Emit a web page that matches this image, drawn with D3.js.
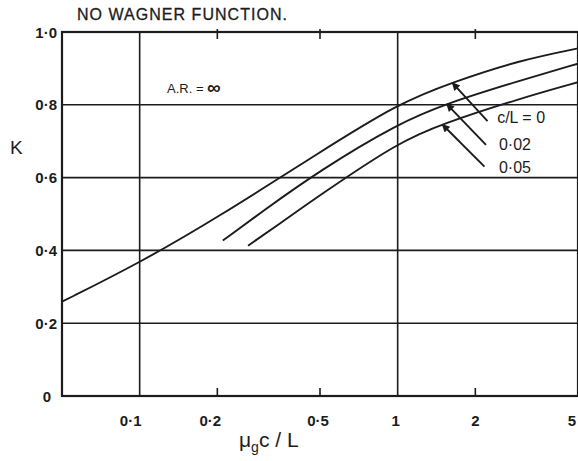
<!DOCTYPE html>
<html>
<head>
<meta charset="utf-8">
<script src="https://cdn.jsdelivr.net/npm/d3@7"></script>
<style>
  html, body { margin: 0; padding: 0; background: #fff; }
  svg { display: block; }
  text { font-family: "Liberation Sans", "DejaVu Sans", sans-serif; fill: #1c1c1c; }
</style>
</head>
<body>
<svg id="chart" width="578" height="461"></svg>
<script>
// K against mu_g c / L (log scale), one curve per gust-gradient ratio c/L
const seriesNames = ["c/L = 0", "0·02", "0·05"];
const curve0  = [[0.05,0.259],[0.1,0.366],[0.2,0.49],[0.5,0.67],[1,0.803],[1.63,0.862],[3,0.923],[5,0.955]];
const curve02 = [[0.21,0.427],[0.3,0.508],[0.5,0.62],[1,0.748],[1.55,0.804],[3,0.867],[5,0.913]];
const curve05 = [[0.263,0.413],[0.35,0.474],[0.5,0.552],[1,0.696],[1.49,0.748],[3,0.818],[5,0.862]];

const xTickValues = [0.1, 0.2, 0.5, 1, 2, 5];
const xTickLabels = ["0·1", "0·2", "0·5", "1", "2", "5"];
const xGridValues = [0.1, 1];
const xMinorTicks = [0.2, 0.5, 2];
const yTickValues = [0, 0.2, 0.4, 0.6, 0.8, 1.0];
const yTickLabels = ["0", "0·2", "0·4", "0·6", "0·8", "1·0"];

// arrows from each label to its curve: [x, K] of tail and tip
const arrowTails = [[2.23,0.755],[2.20,0.69],[2.17,0.63]];
const arrowTips  = [[1.63,0.86],[1.55,0.802],[1.49,0.746]];
const labelAnchors = [[2.43,0.766],[2.47,0.692],[2.47,0.629]];

const svg = d3.select("#chart");
const ink = "#1c1c1c";

const x = d3.scaleLog().domain([0.05, 5]).range([62, 578]);
const y = d3.scaleLinear().domain([0, 1]).range([396, 32]);

// horizontal grid
svg.append("g").selectAll("line").data(yTickValues.filter(v => v > 0 && v < 1)).join("line")
  .attr("x1", x(0.05)).attr("x2", x(5))
  .attr("y1", d => y(d)).attr("y2", d => y(d))
  .attr("stroke", ink).attr("stroke-width", 1.6);

// vertical grid at decades
svg.append("g").selectAll("line").data(xGridValues).join("line")
  .attr("x1", d => x(d)).attr("x2", d => x(d))
  .attr("y1", y(0)).attr("y2", y(1))
  .attr("stroke", ink).attr("stroke-width", 1.6);

// frame
svg.append("rect")
  .attr("x", x(0.05)).attr("y", y(1))
  .attr("width", x(5) - x(0.05)).attr("height", y(0) - y(1))
  .attr("fill", "none").attr("stroke", ink).attr("stroke-width", 2.2);

// small ticks on top and bottom edges
const tickG = svg.append("g").attr("stroke", ink).attr("stroke-width", 1.6);
tickG.selectAll(".tb").data(xMinorTicks).join("line")
  .attr("x1", d => x(d)).attr("x2", d => x(d))
  .attr("y1", y(0)).attr("y2", y(0) - 8);
tickG.selectAll(".tt").data(xMinorTicks).join("line")
  .attr("x1", d => x(d)).attr("x2", d => x(d))
  .attr("y1", y(1) - 3).attr("y2", y(1) + 7);

// x tick labels
const xNudge = v => (v < 0.15 ? -9 : v < 0.3 ? -7 : v < 0.8 ? -2 : v < 1.5 ? -2 : v > 3 ? -6 : 0);
svg.append("g").selectAll("text").data(xTickValues).join("text")
  .attr("x", d => x(d) + xNudge(d)).attr("y", 426)
  .attr("text-anchor", "middle")
  .attr("font-size", 15).attr("font-weight", "bold")
  .text((d, i) => xTickLabels[i]);

// y tick labels
svg.append("g").selectAll("text").data(yTickValues).join("text")
  .attr("x", d => d === 0 ? 51 : 57).attr("y", d => y(d) + 5.5)
  .attr("text-anchor", "end")
  .attr("font-size", 15).attr("font-weight", "bold")
  .text((d, i) => yTickLabels[i]);

// curves
const line = d3.line().x(d => x(d[0])).y(d => y(d[1])).curve(d3.curveBasis);
svg.append("g").selectAll("path").data([curve0, curve02, curve05]).join("path")
  .attr("d", line)
  .attr("fill", "none").attr("stroke", ink).attr("stroke-width", 1.9);

// arrows
svg.append("defs").append("marker")
  .attr("id", "head").attr("viewBox", "0 0 10 10")
  .attr("refX", 9).attr("refY", 5)
  .attr("markerWidth", 12).attr("markerHeight", 8)
  .attr("markerUnits", "userSpaceOnUse")
  .attr("orient", "auto")
  .append("path").attr("d", "M0,0 L10,5 L0,10 Z").attr("fill", ink);

svg.append("g").selectAll("line").data(arrowTails).join("line")
  .attr("x1", d => x(d[0])).attr("y1", d => y(d[1]))
  .attr("x2", (d, i) => x(arrowTips[i][0])).attr("y2", (d, i) => y(arrowTips[i][1]))
  .attr("stroke", ink).attr("stroke-width", 1.9)
  .attr("marker-end", "url(#head)");

svg.append("g").selectAll("text").data(labelAnchors).join("text")
  .attr("x", d => x(d[0])).attr("y", d => y(d[1]) + 6)
  .attr("font-size", 16)
  .text((d, i) => seriesNames[i]);

// title and annotations
svg.append("text")
  .attr("x", 77).attr("y", 20)
  .attr("font-size", 16)
  .attr("stroke", ink).attr("stroke-width", 0.3)
  .attr("textLength", 210).attr("lengthAdjust", "spacing")
  .text("NO WAGNER FUNCTION.");

const ar = svg.append("text").attr("x", 167).attr("y", 93).attr("font-size", 13);
ar.append("tspan").text("A.R. = ");
ar.append("tspan").attr("font-size", 19).attr("font-weight", "bold").attr("dy", 1).text("∞");

svg.append("text")
  .attr("x", 10).attr("y", 154)
  .attr("font-size", 19)
  .text("K");

// x axis title: mu with subscript g, then c / L
const xt = svg.append("text").attr("x", 239).attr("y", 447).attr("font-size", 21);
xt.append("tspan").text("μ");
xt.append("tspan").attr("font-size", 14).attr("dy", 5).text("g");
xt.append("tspan").attr("dy", -5).text("c / L");
</script>
</body>
</html>
